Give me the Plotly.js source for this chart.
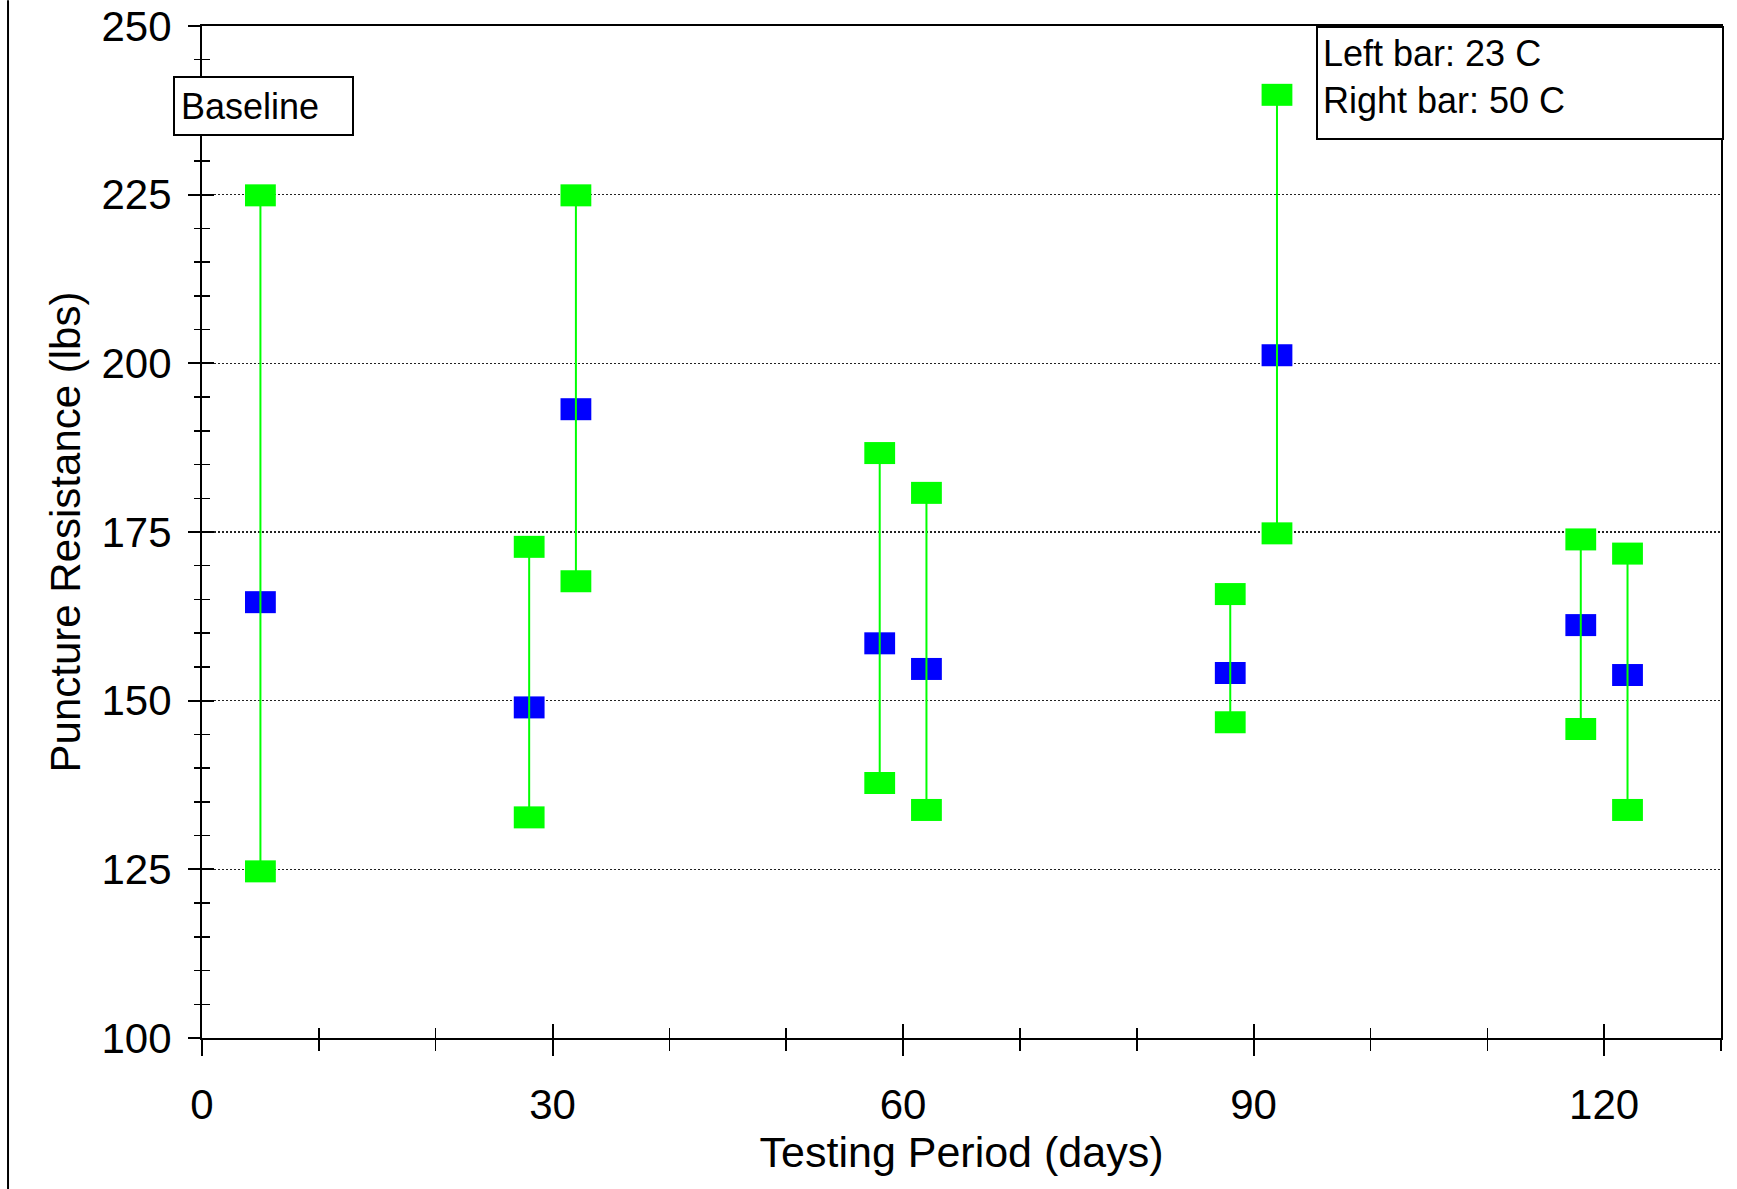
<!DOCTYPE html>
<html>
<head>
<meta charset="utf-8">
<script src="https://cdn.plot.ly/plotly-3.0.1.min.js"></script>
<style>html,body{margin:0;padding:0;background:#fff;}#chart{width:1737px;height:1189px;}</style>
</head>
<body>
<div id="chart"></div>
<script>
// Testing period (days) for each bar
const days = [5, 28, 32, 58, 62, 88, 92, 118, 122];
// Puncture resistance (lbs): maximum, mean, minimum
const maxVals  = [224.9, 172.8, 224.9, 186.7, 180.8, 165.8, 239.8, 173.9, 171.8];
const meanVals = [164.6, 149.0, 193.2, 158.5, 154.7, 154.1, 201.2, 161.2, 153.8];
const minVals  = [124.7, 132.7, 167.7, 137.8, 133.8, 146.8, 174.8, 145.8, 133.8];
const xTickVals = [0, 30, 60, 90, 120];
const yTickVals = [100, 125, 150, 175, 200, 225, 250];

const FONT = 'Liberation Sans, Arial, sans-serif';
const GREEN = '#00ff00';
const BLUE = '#0000ff';

// build range segments (max -> min) separated by gaps
const segX = [], segY = [];
days.forEach((d, i) => {
  segX.push(d, d, null);
  segY.push(maxVals[i], minVals[i], null);
});

const rectMarker = (color) => ({symbol: 'line-ew', size: 22, color: color, line: {width: 22, color: color}});

const traces = [
  {type: 'scatter', mode: 'markers', x: days, y: meanVals, xaxis: 'x', yaxis: 'y',
   marker: rectMarker(BLUE), showlegend: false, hoverinfo: 'x+y', name: 'Mean'},
  {type: 'scatter', mode: 'lines+markers', x: segX, y: segY, xaxis: 'x2', yaxis: 'y2',
   connectgaps: false, line: {color: GREEN, width: 2},
   marker: rectMarker(GREEN), showlegend: false, hoverinfo: 'x+y', name: 'Range'}
];

const xRange = [0, 130], yRange = [100, 250];

const layout = {
  width: 1737, height: 1189,
  margin: {l: 202, r: 16, t: 26, b: 151},
  paper_bgcolor: '#fff', plot_bgcolor: '#fff',
  font: {family: FONT, color: '#000', size: 42},
  showlegend: false,
  xaxis: {
    range: xRange, tickmode: 'array', tickvals: xTickVals, ticktext: xTickVals.map(String),
    ticks: 'outside', ticklen: 16, tickwidth: 2, tickcolor: '#000',
    minor: {dtick: 10, tick0: 0, ticks: 'outside', ticklen: 11, tickwidth: 1.5, tickcolor: '#000', showgrid: false},
    showline: true, linecolor: '#000', linewidth: 2, mirror: true,
    showgrid: false, zeroline: false,
    tickfont: {family: FONT, size: 42, color: '#000'},
    ticklabelstandoff: 13,
    title: {text: 'Testing Period (days)', font: {family: FONT, size: 43, color: '#000'}, standoff: 4}
  },
  yaxis: {
    range: yRange, tickmode: 'array', tickvals: yTickVals, ticktext: yTickVals.map(String),
    ticks: 'outside', ticklen: 12, tickwidth: 2, tickcolor: '#000',
    minor: {dtick: 5, tick0: 100, ticks: 'outside', ticklen: 6, tickwidth: 1.5, tickcolor: '#000', showgrid: false},
    showline: true, linecolor: '#000', linewidth: 2, mirror: true,
    showgrid: true, gridcolor: '#222', gridwidth: 1.2, griddash: '2px,2px',
    zeroline: false,
    tickfont: {family: FONT, size: 42, color: '#000'},
    ticklabelstandoff: 8,
    title: {text: 'Puncture Resistance (lbs)', font: {family: FONT, size: 42, color: '#000'}, standoff: 8}
  },
  xaxis2: {
    range: xRange, overlaying: 'x', anchor: 'y2', side: 'bottom',
    tickmode: 'array', tickvals: xTickVals, showticklabels: false,
    ticks: 'inside', ticklen: 14, tickwidth: 2, tickcolor: '#000',
    minor: {dtick: 10, tick0: 0, ticks: 'inside', ticklen: 10, tickwidth: 1.5, tickcolor: '#000', showgrid: false},
    showline: false, showgrid: false, zeroline: false
  },
  yaxis2: {
    range: yRange, overlaying: 'y', anchor: 'x2', side: 'left',
    tickmode: 'array', tickvals: yTickVals, showticklabels: false,
    ticks: 'inside', ticklen: 12, tickwidth: 2, tickcolor: '#000',
    minor: {dtick: 5, tick0: 100, ticks: 'inside', ticklen: 8, tickwidth: 1.5, tickcolor: '#000', showgrid: false},
    showline: false, showgrid: false, zeroline: false
  },
  annotations: [
    {xref: 'paper', yref: 'paper', x: -0.0188, y: 0.9506, xanchor: 'left', yanchor: 'top',
     text: 'Baseline', showarrow: false, align: 'left', valign: 'middle',
     width: 165, height: 44, borderpad: 6, borderwidth: 2, bordercolor: '#000', bgcolor: '#fff',
     font: {family: FONT, size: 36, color: '#000'}},
    {xref: 'paper', yref: 'paper', x: 1.002, y: 1.0, xanchor: 'right', yanchor: 'top',
     text: 'Left bar: 23 C<br>Right bar: 50 C', showarrow: false, align: 'left', valign: 'top',
     width: 394, height: 100, borderpad: 5, borderwidth: 2, bordercolor: '#000', bgcolor: '#fff',
     font: {family: FONT, size: 36, color: '#000'}}
  ],
  shapes: [
    {type: 'line', xref: 'paper', yref: 'paper', x0: -0.1277, x1: -0.1277, y0: -0.1495, y1: 1.0254,
     line: {color: '#000', width: 2}}
  ]
};

Plotly.newPlot('chart', traces, layout, {displayModeBar: false, staticPlot: true});
</script>
</body>
</html>
